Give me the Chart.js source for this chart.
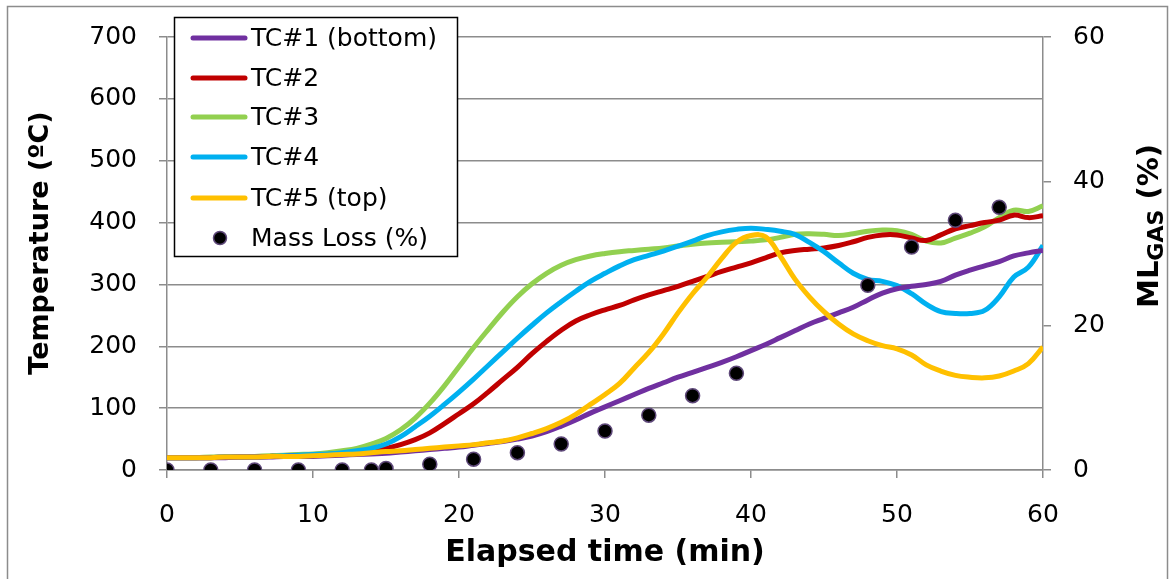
<!DOCTYPE html>
<html>
<head>
<meta charset="utf-8">
<script src="https://cdn.jsdelivr.net/npm/chart.js@4.4.0/dist/chart.umd.min.js"></script>
<style>
  body { margin: 0; background: #fff; }
  canvas { display: block; }
</style>
</head>
<body>
<canvas id="tempChart" width="1169" height="579"></canvas>
<script>
// elapsed time in minutes, one reading per minute
const minutes = [];
for (let m = 0; m <= 60; m++) minutes.push(m);

const tc1 = [20,20,20,20,20,21,21,21,22,22,22,23,24,25,26,27,29,31,33,35,37,40,43,46,50,55,62,71,81,92,
  102,112,122,132,141,150,158,166,174,183,193,203,214,225,236,245,254,263,275,286,293,297,300,305,315,323,330,337,346,351,355];
const tc2 = [20,20,20,20,21,21,21,22,22,23,24,25,26,28,31,35,41,49,60,75,91,107,126,146,166,188,208,226,241,251,
  259,266,275,283,290,297,305,313,321,328,335,343,351,355,357,359,363,369,376,380,380,375,371,380,390,395,400,404,412,408,411];
const tc3 = [20,20,20,21,21,21,22,23,24,25,26,28,31,35,42,51,65,84,108,136,167,198,227,255,280,301,318,331,340,346,
  350,353,355,357,359,362,365,367,368,369,370,372,376,381,382,381,379,382,386,388,387,381,370,367,375,383,393,408,420,418,427];
const tc4 = [20,20,20,20,21,21,21,22,23,24,25,26,28,31,35,42,54,70,87,106,126,147,169,191,213,234,254,272,289,305,
  318,330,340,347,354,362,370,379,385,389,391,389,386,381,368,353,335,318,308,305,298,285,268,256,253,253,258,280,312,328,363];
const tc5 = [20,20,20,20,21,21,21,22,22,22,23,24,25,26,28,30,31,33,35,37,39,41,44,47,52,59,67,77,90,106,
  122,140,165,190,220,254,285,312,342,368,379,377,346,309,280,256,236,220,209,201,196,186,170,160,153,150,149,152,160,172,199];

// gas mass loss (%) sampled during the test
const massTime = [0,3,6,9,12,14,15,18,21,24,27,30,33,36,39,48,51,54,57];
const massLoss = [0,0,0,0,0,0,0.2,0.8,1.5,2.4,3.6,5.4,7.6,10.3,13.4,25.6,30.9,34.6,36.4];

const labels = ["TC#1 (bottom)", "TC#2", "TC#3", "TC#4", "TC#5 (top)", "Mass Loss (%)"];
const colors = ["#7030A0", "#C00000", "#92D050", "#00B0F0", "#FFC000"];

const FONT = "'DejaVu Sans', sans-serif";
const GRID = "#8c8c8c";

function pts(xs, ys) {
  return ys.map((y, i) => ({ x: xs[i], y: y }));
}

function lineSet(i, values, order) {
  return {
    label: labels[i],
    data: pts(minutes, values),
    borderColor: colors[i],
    backgroundColor: colors[i],
    borderWidth: 5,
    pointRadius: 0,
    tension: 0.4,
    fill: false,
    yAxisID: "y",
    order: order
  };
}

// legend box, vertical titles and outer frame
const extras = {
  id: "extras",
  afterDraw(chart) {
    const ctx = chart.ctx;
    ctx.save();
    ctx.strokeStyle = "#8c8c8c";
    ctx.lineWidth = 1.5;
    ctx.strokeRect(7.5, 6.5, 1160, 600);

    // left title
    ctx.fillStyle = "#000";
    ctx.font = "bold 27px " + FONT;
    ctx.textAlign = "center";
    ctx.textBaseline = "middle";
    ctx.save();
    ctx.translate(41, 243);
    ctx.rotate(-Math.PI / 2);
    ctx.fillText("Temperature (ºC)", 0, 0);
    ctx.restore();

    // right title with subscript
    ctx.save();
    ctx.translate(1147, 226);
    ctx.rotate(-Math.PI / 2);
    ctx.textAlign = "left";
    ctx.textBaseline = "alphabetic";
    const big = "bold 29px " + FONT, small = "bold 22px " + FONT;
    ctx.font = big;
    const w1 = ctx.measureText("ML").width;
    const w3 = ctx.measureText(" (%)").width;
    ctx.font = small;
    const w2 = ctx.measureText("GAS").width;
    let x = -(w1 + w2 + w3) / 2;
    ctx.font = big;
    ctx.fillText("ML", x, 11);
    x += w1;
    ctx.font = small;
    ctx.fillText("GAS", x, 16);
    x += w2;
    ctx.font = big;
    ctx.fillText(" (%)", x, 11);
    ctx.restore();

    // legend
    ctx.fillStyle = "#fff";
    ctx.fillRect(174, 17, 284, 240);
    ctx.strokeStyle = "#000";
    ctx.lineWidth = 1.5;
    ctx.strokeRect(174.5, 17.5, 283, 239);
    ctx.font = "25px " + FONT;
    ctx.textAlign = "left";
    ctx.textBaseline = "middle";
    const rowY = [38, 78, 117, 157, 198, 238];
    for (let i = 0; i < 6; i++) {
      const y = rowY[i];
      if (i < 5) {
        ctx.strokeStyle = colors[i];
        ctx.lineWidth = 5;
        ctx.lineCap = "round";
        ctx.beginPath();
        ctx.moveTo(193, y);
        ctx.lineTo(245, y);
        ctx.stroke();
      } else {
        ctx.fillStyle = "#000";
        ctx.strokeStyle = "#5f497a";
        ctx.lineWidth = 1.5;
        ctx.beginPath();
        ctx.arc(220, y, 6.5, 0, Math.PI * 2);
        ctx.fill();
        ctx.stroke();
      }
      ctx.fillStyle = "#000";
      ctx.fillText(labels[i], 251, y + 1);
    }
    ctx.restore();
  }
};

new Chart(document.getElementById("tempChart").getContext("2d"), {
  type: "line",
  data: {
    datasets: [
      {
        type: "scatter",
        label: labels[5],
        data: pts(massTime, massLoss),
        yAxisID: "y2",
        pointRadius: 7,
        pointBackgroundColor: "#000",
        pointBorderColor: "#5f497a",
        pointBorderWidth: 1.5,
        showLine: false,
        order: 0
      },
      lineSet(4, tc5, 1),
      lineSet(0, tc1, 2),
      lineSet(3, tc4, 3),
      lineSet(1, tc2, 4),
      lineSet(2, tc3, 5)
    ]
  },
  options: {
    responsive: false,
    animation: false,
    layout: { padding: { top: 36, left: 0, right: 0, bottom: 0 } },
    plugins: { legend: { display: false }, tooltip: { enabled: false } },
    scales: {
      x: {
        type: "linear",
        min: 0,
        max: 60,
        ticks: { stepSize: 10, color: "#000", font: { family: FONT, size: 25 }, padding: 22 },
        grid: { drawOnChartArea: false, tickLength: 8, color: GRID, lineWidth: 1.5 },
        border: { color: GRID, width: 1.5 },
        title: {
          display: true,
          text: "Elapsed time (min)",
          color: "#000",
          font: { family: FONT, size: 30, weight: "bold" },
          padding: { top: 0, bottom: 8 }
        },
        afterFit(s) { s.height = 109; }
      },
      y: {
        position: "left",
        min: 0,
        max: 700,
        ticks: { stepSize: 100, color: "#000", font: { family: FONT, size: 25 }, padding: 22 },
        grid: { color: GRID, lineWidth: 1.5, tickLength: 8 },
        border: { color: GRID, width: 1.5 },
        afterFit(s) { s.width = 167; }
      },
      y2: {
        position: "right",
        min: 0,
        max: 60,
        ticks: { stepSize: 20, color: "#000", font: { family: FONT, size: 25 }, padding: 22 },
        grid: { drawOnChartArea: false, tickLength: 8, color: GRID, lineWidth: 1.5 },
        border: { color: GRID, width: 1.5 },
        afterFit(s) { s.width = 126; }
      }
    }
  },
  plugins: [extras]
});
</script>
</body>
</html>
